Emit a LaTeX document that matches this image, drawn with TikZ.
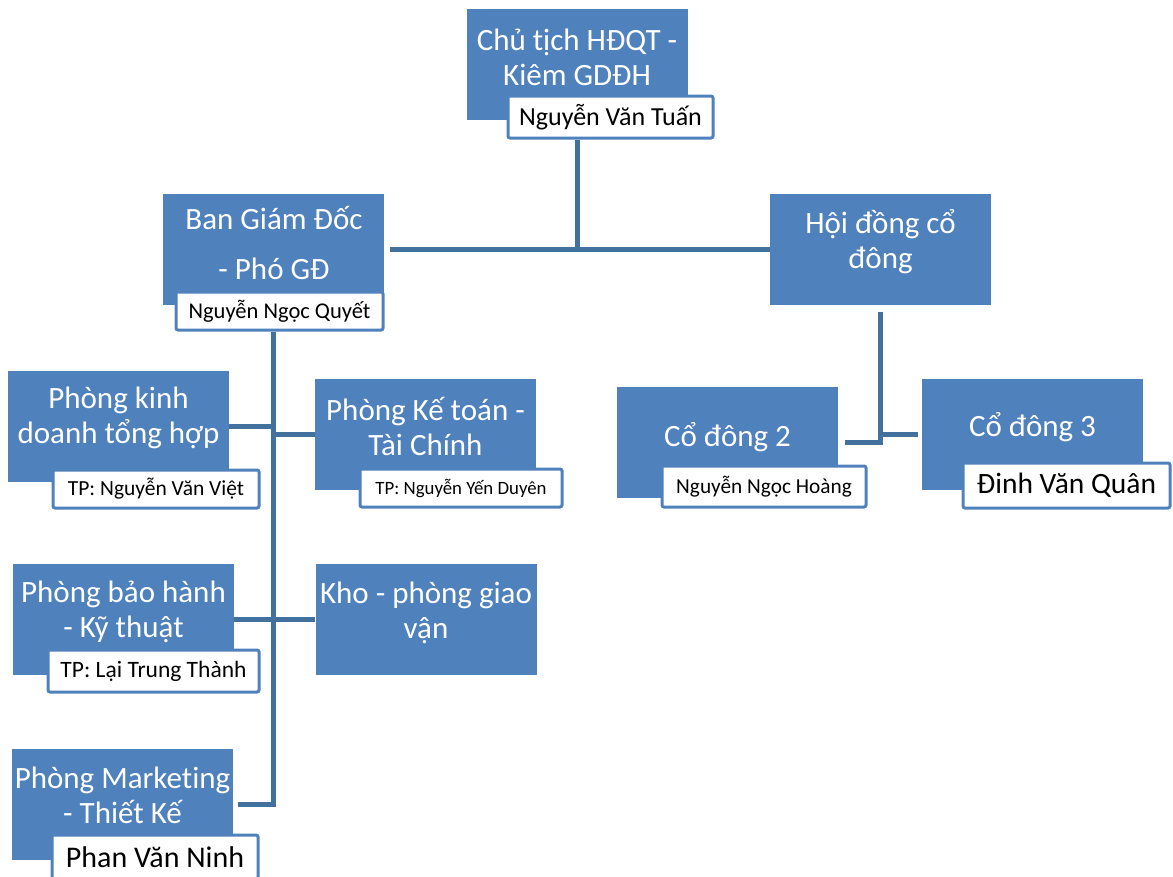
\documentclass[tikz,border=0pt]{standalone}
\usepackage{fontspec}
\setmainfont{Carlito}[Ligatures={NoCommon}]
\definecolor{boxblue}{HTML}{4F81BD}
\definecolor{linkblue}{HTML}{41719C}
\tikzset{
  unitbox/.style={fill=boxblue, draw=none, minimum width=221pt, minimum height=111pt, inner sep=0pt},
  boxtext/.style={text=white, align=center, font=\fontsize{31}{35}\selectfont, inner sep=0pt},
  namebox/.style={fill=white, draw=boxblue, line width=3pt, rounded corners=2pt, inner sep=0pt, text=black},
  conn/.style={draw=linkblue, line width=5pt},
}
\begin{document}
\begin{tikzpicture}[x=1pt,y=-1pt]
\useasboundingbox (0,0) rectangle (1173,876);

% main boxes
\node[unitbox] (b0) at (577,64.5) {};
\node[unitbox] (b1) at (273.5,249.5) {};
\node[unitbox] (b2) at (880.5,249.5) {};
\node[unitbox] (b3) at (118.5,426) {};
\node[unitbox] (b4) at (425.5,434) {};
\node[unitbox] (b5) at (123.5,619) {};
\node[unitbox] (b6) at (426,619) {};
\node[unitbox] (b7) at (122.5,804) {};
\node[unitbox] (b8) at (727.5,442) {};
\node[unitbox] (b9) at (1032.5,434) {};

% texts
\node[boxtext] (t0) at (577,57) {Chủ tịch HĐQT -\\Kiêm GDĐH};
\node[boxtext] (t1) at (274,243) {Ban Giám Đốc\\[15pt]- Phó GĐ};
\node[boxtext] (t2) at (880.5,242) {Hội đồng cổ\\đông};
\node[boxtext] (t3) at (118.5,418) {Phòng kinh\\doanh tổng hợp};
\node[boxtext] (t4) at (425.5,426) {Phòng Kế toán -\\Tài Chính};
\node[boxtext] (t5) at (123.5,612) {Phòng bảo hành\\- Kỹ thuật};
\node[boxtext] (t6) at (426,613) {Kho - phòng giao\\vận};
\node[boxtext] (t7) at (122.5,795) {Phòng Marketing\\- Thiết Kế};
\node[boxtext] (t8) at (727.5,437) {Cổ đông 2};
\node[boxtext] (t9) at (1032.5,427) {Cổ đông 3};

% name labels
\node[namebox, minimum width=205pt, minimum height=42pt, font=\fontsize{26}{30}\selectfont] (l0) at (610.5,117) {Nguyễn Văn Tuấn};
\node[namebox, minimum width=207pt, minimum height=38pt, font=\fontsize{22.5}{26}\selectfont] (l1) at (279.5,311) {Nguyễn Ngọc Quyết};
\node[namebox, minimum width=206pt, minimum height=38pt, font=\fontsize{21.5}{25}\selectfont] (l3) at (156,489) {TP: Nguyễn Văn Việt};
\node[namebox, minimum width=202pt, minimum height=38pt, font=\fontsize{18.8}{22}\selectfont] (l4) at (461,488) {TP: Nguyễn Yến Duyên};
\node[namebox, minimum width=211pt, minimum height=42pt, font=\fontsize{23.5}{27}\selectfont] (l5) at (153.5,671) {TP: Lại Trung Thành};
\node[namebox, minimum width=206pt, minimum height=44pt, font=\fontsize{30}{34}\selectfont] (l7) at (155,857) {Phan Văn Ninh};
\node[namebox, minimum width=204pt, minimum height=41pt, font=\fontsize{21.3}{25}\selectfont] (l8) at (764,486.5) {Nguyễn Ngọc Hoàng};
\node[namebox, minimum width=207pt, minimum height=45pt, font=\fontsize{29.5}{33}\selectfont] (l9) at (1066.5,485.5) {Đinh Văn Quân};

% connectors
\draw[conn] (b0.south |- l0.south) -- (b0.south |- b1.east);
\draw[conn] ([xshift=6pt]b1.east) -- (b2.west);
\draw[conn] (b1.center |- l1.south) -- (b1.center |- b7.east) -- ([xshift=5pt]b7.east);
\draw[conn] (b3.east) -- (b1.center |- b3.east);
\draw[conn] (b1.center |- b4.west) -- (b4.west);
\draw[conn] (b5.east) -- (b6.west);
\draw[conn] ([yshift=-7pt]b2.south) -- (b2.south |- b8.east) -- ([xshift=7pt]b8.east);
\draw[conn] (b2.south |- b9.west) -- ([xshift=-4pt]b9.west);
\end{tikzpicture}
\end{document}
